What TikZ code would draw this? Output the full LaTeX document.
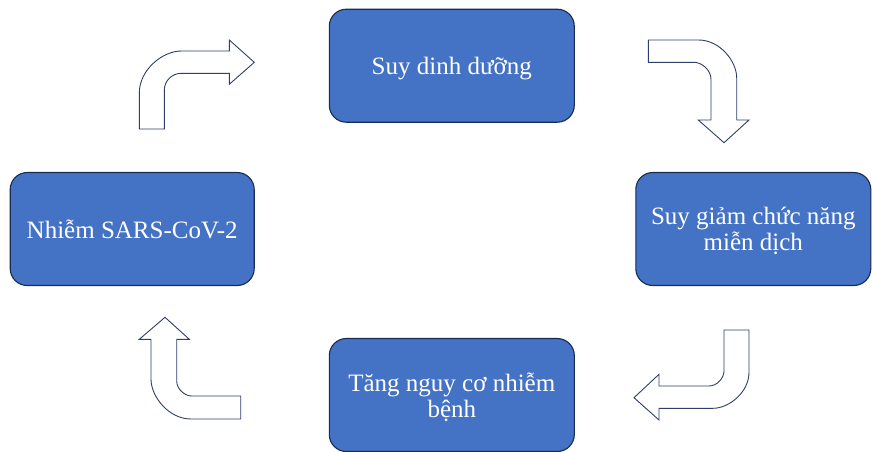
\documentclass[tikz,border=0pt]{standalone}
\usepackage{fontspec}
\setmainfont{Liberation Serif}
\usepackage{tikz}
\definecolor{boxblue}{HTML}{4472C4}
\definecolor{boxedge}{HTML}{172C51}
\definecolor{arrowedge}{HTML}{2E3F6B}

\begin{document}
\begin{tikzpicture}
            [x=1pt, y=-1pt,
             stagebox/.style={shape=rectangle, rounded corners=17pt, draw=boxedge, line width=1.1pt,
                              fill=boxblue, text=white, align=center, inner sep=0pt, text depth=0pt,
                              minimum height=113pt, font=\fontsize{25}{25.5}\selectfont},
             bentarrow/.style={draw=arrowedge, fill=white, line width=0.9pt, line join=miter}]
            \useasboundingbox (0, 0) rectangle (872, 451);

            \node[stagebox, minimum width=245pt] (malnutrition) at (451.8, 65.7) {Suy dinh dưỡng};
            \node[stagebox, minimum width=235pt] (immunity) at (753.3, 229) {Suy giảm chức năng\\miễn dịch};
            \node[stagebox, minimum width=245pt] (infection) at (451.8, 395) {Tăng nguy cơ nhiễm\\bệnh};
            \node[stagebox, minimum width=244pt] (covid) at (132.2, 229) {Nhiễm SARS-CoV-2};

            % bent block arrows between the stages
            \draw[bentarrow] (139.3, 129) -- (139.3, 93) .. controls (139.3, 69.8) and (162.5, 51) .. (181.3, 51)
                -- (229.3, 51) -- (229.3, 40) -- (254.3, 62.3) -- (229.3, 84.3) -- (229.3, 73.3) -- (181.3, 73.3)
                .. controls (171.9, 73.3) and (164.3, 80.9) .. (164.3, 90.3) -- (164.3, 129) -- cycle;
            \draw[bentarrow] (648.3, 40) -- (698.7, 40) .. controls (719.7, 40) and (736.7, 61) .. (736.7, 78)
                -- (736.7, 120) -- (749, 120) -- (724, 142.7) -- (698.3, 120) -- (711, 120) -- (711, 79.3)
                .. controls (711, 69.9) and (701.6, 62.3) .. (694, 62.3) -- (648.3, 62.3) -- cycle;
            \draw[bentarrow] (724, 330) -- (749, 330) -- (749, 372.3) .. controls (749, 392.2) and (729.1, 408.3) .. (713, 408.3)
                -- (659, 408.3) -- (659, 420) -- (634, 397.7) -- (659, 374.3) -- (659, 386) -- (709, 386)
                .. controls (717.3, 386) and (724, 377.7) .. (724, 371) -- cycle;
            \draw[bentarrow] (240.7, 419) -- (191, 419) .. controls (168.9, 419) and (151, 396.9) .. (151, 379)
                -- (151, 339.3) -- (139.3, 339.3) -- (165, 317.3) -- (189.3, 339.3) -- (176.7, 339.3) -- (176.7, 381)
                .. controls (176.7, 389.3) and (185, 396) .. (191.7, 396) -- (240.7, 396) -- cycle;
        \end{tikzpicture}
\end{document}
